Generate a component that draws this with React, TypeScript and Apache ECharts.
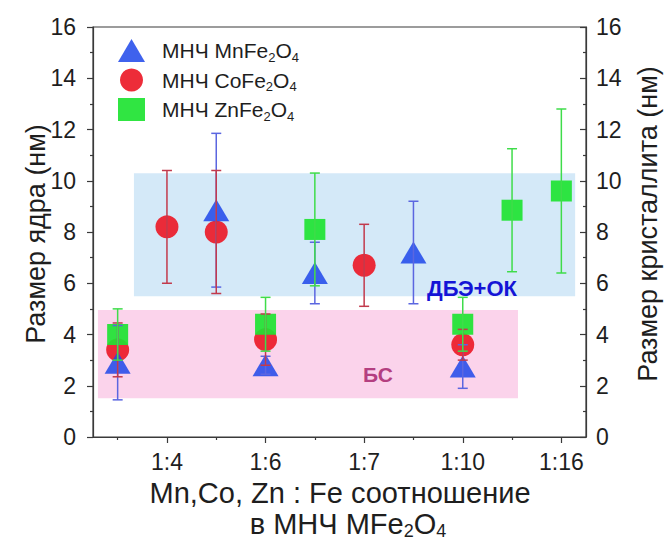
import React, { useEffect, useRef } from "react";
import * as echarts from "echarts";

// ---- data ----
const ratioLabels = ["1:4", "1:6", "1:7", "1:10", "1:16"];
const ratioPositions = [1, 2, 3, 4, 5];
const minorPositions = [0.5, 1.5, 2.5, 3.5, 4.5];

const mnX = [0.5, 1.5, 2, 2.5, 3.5, 4];
const mnY = [2.9, 8.85, 2.8, 6.4, 7.2, 2.75];
const mnErr = [1.45, 3.0, 0.35, 1.2, 2.0, 0.85];

const coX = [0.5, 1, 1.5, 2, 3, 4];
const coY = [3.4, 8.2, 8.0, 3.8, 6.7, 3.6];
const coErr = [1.05, 2.2, 2.4, 1.0, 1.6, 0.6];

const znX = [0.5, 2, 2.5, 4, 4.5, 5];
const znY = [4.0, 4.4, 8.1, 4.4, 8.85, 9.6];
const znErr = [1.0, 1.05, 2.2, 1.05, 2.4, 3.2];

// regions: [x0, x1, y0, y1]
const regionDBE = [0.665, 5.14, 5.49, 10.29];
const regionBS = [0.3, 4.56, 1.51, 4.96];

const seriesNames = ["МНЧ MnFe2O4", "МНЧ CoFe2O4", "МНЧ ZnFe2O4"];
const legendRich: Record<string, string> = {
  "МНЧ MnFe2O4": "{p|МНЧ MnFe}{s|2}{a|O}{s|4}",
  "МНЧ CoFe2O4": "{p|МНЧ CoFe}{s|2}{a|O}{s|4}",
  "МНЧ ZnFe2O4": "{p|МНЧ ZnFe}{s|2}{a|O}{s|4}",
};

const FONT = "Liberation Sans, Arial, sans-serif";
const AXIS_COLOR = "#3a3a3a";
const TEXT_COLOR = "#1e1e1e";

function zip(xs: number[], ys: number[]) {
  return xs.map((x, i) => [x, ys[i]]);
}
function zip3(xs: number[], ys: number[], es: number[]) {
  return xs.map((x, i) => [x, ys[i], es[i]]);
}

function errorSeries(name: string, data: number[][], color: string) {
  return {
    type: "custom",
    name: name + " err",
    z: 5,
    silent: true,
    data,
    encode: { x: 0, y: 1 },
    renderItem: (params: any, api: any) => {
      const x = api.value(0);
      const y = api.value(1);
      const e = api.value(2);
      const top = api.coord([x, y + e]);
      const bot = api.coord([x, y - e]);
      const hw = 5;
      const st = { stroke: color, lineWidth: 1.5 };
      return {
        type: "group",
        children: [
          { type: "line", shape: { x1: top[0], y1: top[1], x2: bot[0], y2: bot[1] }, style: st },
          { type: "line", shape: { x1: top[0] - hw, y1: top[1], x2: top[0] + hw, y2: top[1] }, style: st },
          { type: "line", shape: { x1: bot[0] - hw, y1: bot[1], x2: bot[0] + hw, y2: bot[1] }, style: st },
        ],
      };
    },
  };
}

export default function App() {
  const ref = useRef<HTMLDivElement>(null);
  useEffect(() => {
    if (!ref.current) return;
    const chart = echarts.init(ref.current, undefined, { renderer: "svg" });
    const option: any = {
      animation: false,
      backgroundColor: "#fff",
      grid: {
        left: 93,
        right: 80,
        top: 27,
        bottom: 106,
        show: true,
        borderColor: AXIS_COLOR,
        borderWidth: 1.2,
        backgroundColor: "transparent",
      },
      legend: {
        show: true,
        data: seriesNames,
        orient: "vertical",
        left: 113,
        top: 34,
        itemGap: 5,
        itemWidth: 27,
        itemHeight: 23,
        formatter: (name: string) => legendRich[name] || name,
        textStyle: {
          fontFamily: FONT,
          fontSize: 21,
          color: TEXT_COLOR,
          rich: {
            p: { fontFamily: FONT, fontSize: 21, color: TEXT_COLOR, padding: [0, 0, 0, 12], lineHeight: 26 },
            a: { fontFamily: FONT, fontSize: 21, color: TEXT_COLOR, lineHeight: 26 },
            s: { fontFamily: FONT, fontSize: 13, color: TEXT_COLOR, lineHeight: 12, verticalAlign: "bottom" },
          },
        },
      },
      xAxis: [
        {
          type: "value",
          min: 0.25,
          max: 5.25,
          position: "bottom",
          axisLine: { show: true, lineStyle: { color: AXIS_COLOR, width: 1.2 } },
          splitLine: { show: false },
          axisTick: {
            show: true,
            inside: false,
            length: 6,
            customValues: ratioPositions,
            lineStyle: { color: AXIS_COLOR, width: 1.2 },
          },
          axisLabel: {
            show: true,
            customValues: ratioPositions,
            margin: 13,
            fontSize: 23,
            fontFamily: FONT,
            color: TEXT_COLOR,
            formatter: (v: number) => {
              const i = ratioPositions.indexOf(Math.round(v));
              return i >= 0 ? ratioLabels[i] : "";
            },
          },
        },
        {
          type: "value",
          min: 0.25,
          max: 5.25,
          position: "bottom",
          axisLine: { show: false },
          splitLine: { show: false },
          axisLabel: { show: false },
          axisTick: {
            show: true,
            inside: false,
            length: 3,
            customValues: minorPositions,
            lineStyle: { color: AXIS_COLOR, width: 1.2 },
          },
        },
      ],
      yAxis: [
        {
          type: "value",
          min: 0,
          max: 16,
          interval: 2,
          position: "left",
          axisLine: { show: true, lineStyle: { color: AXIS_COLOR, width: 1.2 } },
          splitLine: { show: false },
          axisTick: { show: true, inside: false, length: 6, lineStyle: { color: AXIS_COLOR, width: 1.2 } },
          minorTick: { show: true, splitNumber: 2, length: 3, lineStyle: { color: AXIS_COLOR, width: 1.2 } },
          axisLabel: { margin: 17, fontSize: 23, fontFamily: FONT, color: TEXT_COLOR },
        },
        {
          type: "value",
          min: 0,
          max: 16,
          interval: 2,
          position: "right",
          axisLine: { show: true, lineStyle: { color: AXIS_COLOR, width: 1.2 } },
          splitLine: { show: false },
          axisTick: { show: true, inside: true, length: 6, lineStyle: { color: AXIS_COLOR, width: 1.2 } },
          minorTick: { show: true, splitNumber: 2, length: 3, lineStyle: { color: AXIS_COLOR, width: 1.2 } },
          axisLabel: { margin: 10, fontSize: 23, fontFamily: FONT, color: TEXT_COLOR },
        },
      ],
      series: [
        {
          type: "custom",
          name: "regions",
          z: 0,
          silent: true,
          data: [
            [...regionDBE, 0],
            [...regionBS, 1],
          ],
          encode: { x: [0, 1], y: [2, 3] },
          renderItem: (params: any, api: any) => {
            const p0 = api.coord([api.value(0), api.value(3)]);
            const p1 = api.coord([api.value(1), api.value(2)]);
            const fill = api.value(4) === 0 ? "#d4e9f8" : "#fbd3eb";
            return {
              type: "rect",
              shape: { x: p0[0], y: p0[1], width: p1[0] - p0[0], height: p1[1] - p0[1] },
              style: { fill },
            };
          },
        },
        {
          type: "scatter",
          name: seriesNames[1],
          z: 2,
          symbol: "circle",
          symbolSize: 23,
          itemStyle: { color: "#ec1c2a", opacity: 0.93 },
          data: zip(coX, coY),
        },
        {
          type: "scatter",
          name: seriesNames[0],
          z: 3,
          symbol: "triangle",
          symbolSize: [26, 22],
          itemStyle: { color: "#1f48ea", opacity: 0.86 },
          data: zip(mnX, mnY),
        },
        {
          type: "scatter",
          name: seriesNames[2],
          z: 4,
          symbol: "rect",
          symbolSize: 21,
          itemStyle: { color: "#1ee332", opacity: 0.92 },
          data: zip(znX, znY),
        },
        errorSeries(seriesNames[0], zip3(mnX, mnY, mnErr), "#5b66e0"),
        errorSeries(seriesNames[1], zip3(coX, coY, coErr), "#c23a4c"),
        errorSeries(seriesNames[2], zip3(znX, znY, znErr), "#3fdc4a"),
      ],
      graphic: [
        {
          type: "text",
          x: 36,
          y: 234,
          z: 100,
          rotation: Math.PI / 2,
          style: {
            text: "Размер ядра (нм)",
            fontSize: 27,
            fontFamily: FONT,
            fill: TEXT_COLOR,
            align: "center",
            verticalAlign: "middle",
          },
        },
        {
          type: "text",
          x: 648,
          y: 224,
          z: 100,
          rotation: Math.PI / 2,
          style: {
            text: "Размер кристаллита (нм)",
            fontSize: 27,
            fontFamily: FONT,
            fill: TEXT_COLOR,
            align: "center",
            verticalAlign: "middle",
          },
        },
        {
          type: "text",
          x: 340,
          y: 493,
          z: 100,
          style: {
            text: "Mn,Co, Zn : Fe соотношение",
            fontSize: 29,
            fontFamily: FONT,
            fill: TEXT_COLOR,
            align: "center",
            verticalAlign: "middle",
          },
        },
        {
          type: "text",
          x: 348,
          y: 524,
          z: 100,
          style: {
            text: "{a|в МНЧ MFe}{s|2}{a|O}{s|4}",
            fontSize: 29,
            fontFamily: FONT,
            fill: TEXT_COLOR,
            align: "center",
            verticalAlign: "middle",
            rich: {
              a: { fontSize: 29, fontFamily: FONT, fill: TEXT_COLOR, lineHeight: 32 },
              s: { fontSize: 18, fontFamily: FONT, fill: TEXT_COLOR, lineHeight: 16, verticalAlign: "bottom" },
            },
          },
        },
        {
          type: "text",
          x: 472,
          y: 288,
          z: 100,
          style: {
            text: "ДБЭ+ОК",
            fontSize: 22,
            fontWeight: "bold",
            fontFamily: FONT,
            fill: "#1414d6",
            align: "center",
            verticalAlign: "middle",
          },
        },
        {
          type: "text",
          x: 378,
          y: 374,
          z: 100,
          style: {
            text: "БС",
            fontSize: 21,
            fontWeight: "bold",
            fontFamily: FONT,
            fill: "#b43f80",
            align: "center",
            verticalAlign: "middle",
          },
        },
      ],
    };
    chart.setOption(option);
    return () => chart.dispose();
  }, []);
  return (
    <div
      ref={ref}
      style={{ position: "absolute", left: 0, top: 0, width: 666, height: 543 }}
    />
  );
}
